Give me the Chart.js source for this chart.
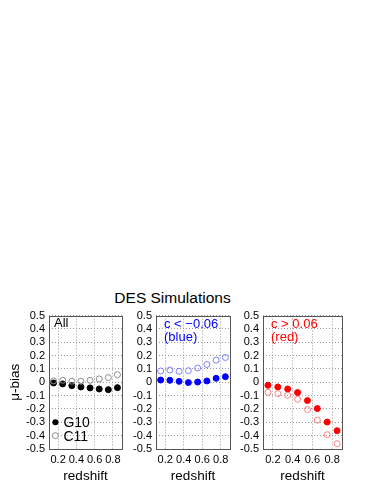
<!DOCTYPE html>
<html lang="en">
<head>
<meta charset="UTF-8">
<title>DES Simulations</title>
<style>
    body { margin: 0; background: #fff; font-family: "Liberation Sans", Arial, sans-serif; }
    #wrap { position: relative; width: 374px; height: 484px; }
    .panel { position: absolute; top: 305px; }
    #title { position: absolute; left: 100px; width: 145px; top: 289px; text-align: center; font-size: 15.5px; color: #000; }
</style>
</head>
<body>
<div id="wrap">
    <div id="title">DES Simulations</div>
    <canvas id="c1" class="panel" width="130" height="179" style="left:0px"></canvas>
    <canvas id="c2" class="panel" width="114" height="179" style="left:126px"></canvas>
    <canvas id="c3" class="panel" width="114" height="179" style="left:233px"></canvas>
</div>

<script src="https://cdn.jsdelivr.net/npm/chart.js"></script>
<script>
// redshift bins
const redshift = [0.15, 0.25, 0.35, 0.45, 0.55, 0.65, 0.75, 0.85];
const xTicks = [0.2, 0.4, 0.6, 0.8];
const yTicks = [-0.5, -0.4, -0.3, -0.2, -0.1, 0, 0.1, 0.2, 0.3, 0.4, 0.5];

// All
const allG10 = [-0.005, -0.012, -0.025, -0.035, -0.042, -0.05, -0.055, -0.04];
const allC11 = [0.01, 0.015, 0.008, 0.008, 0.015, 0.025, 0.035, 0.057];
// c < -0.06 (blue)
const blueG10 = [0.017, 0.015, 0.007, -0.002, 0.002, 0.01, 0.03, 0.042];
const blueC11 = [0.085, 0.092, 0.082, 0.087, 0.107, 0.134, 0.166, 0.186];
// c > 0.06 (red)
const redG10 = [-0.022, -0.035, -0.05, -0.077, -0.137, -0.197, -0.298, -0.363];
const redC11 = [-0.075, -0.085, -0.097, -0.127, -0.204, -0.284, -0.393, -0.46];

const FONT = '"Liberation Sans", Arial, sans-serif';

// box around plot + labels inside the panel
const panelPlugin = {
    id: 'panelText',
    afterDraw(chart, args, opts) {
        const ctx = chart.ctx;
        const a = chart.chartArea;
        ctx.save();
        ctx.strokeStyle = '#555';
        ctx.lineWidth = 1;
        ctx.strokeRect(Math.round(a.left) + 0.5, Math.round(a.top) + 0.5, Math.round(a.right - a.left), Math.round(a.bottom - a.top));
        ctx.textBaseline = 'middle';
        (opts.lines || []).forEach(l => {
            ctx.font = l.size + 'px ' + FONT;
            ctx.fillStyle = l.color;
            ctx.fillText(l.text, a.left + l.dx, a.top + l.dy);
        });
        // legend (G10 / C11) at fixed data positions
        if (opts.legend) {
            const xs = chart.scales.x, ys = chart.scales.y;
            opts.legend.forEach(k => {
                const px = xs.getPixelForValue(k.x), py = ys.getPixelForValue(k.y);
                ctx.beginPath();
                ctx.arc(px, py, 3, 0, Math.PI * 2);
                if (k.filled) { ctx.fillStyle = k.color; ctx.fill(); }
                else { ctx.fillStyle = '#fff'; ctx.fill(); ctx.strokeStyle = k.color; ctx.stroke(); }
                ctx.font = '14px ' + FONT;
                ctx.fillStyle = '#000';
                ctx.fillText(k.text, px + 8, py + 1);
            });
        }
        ctx.restore();
    }
};

function makePanel(id, g10, c11, fillColor, openColor, yWidth, padRight, showYTitle, lines, legend) {
    new Chart(document.getElementById(id), {
        type: 'scatter',
        data: {
            datasets: [
                {
                    label: 'C11',
                    data: redshift.map((z, i) => ({ x: z, y: c11[i] })),
                    pointStyle: 'circle',
                    pointRadius: 3,
                    pointBackgroundColor: 'rgba(255,255,255,0)',
                    pointBorderColor: openColor,
                    pointBorderWidth: 1
                },
                {
                    label: 'G10',
                    data: redshift.map((z, i) => ({ x: z, y: g10[i] })),
                    pointStyle: 'circle',
                    pointRadius: 3,
                    pointBackgroundColor: fillColor,
                    pointBorderColor: fillColor,
                    pointBorderWidth: 1
                }
            ]
        },
        options: {
            responsive: false,
            animation: false,
            events: [],
            layout: { padding: { top: 10, right: padRight, left: 0, bottom: 0 } },
            plugins: {
                legend: { display: false },
                tooltip: { enabled: false },
                panelText: { lines: lines, legend: legend }
            },
            scales: {
                x: {
                    type: 'linear',
                    min: 0.1,
                    max: 0.9,
                    afterBuildTicks: s => { s.ticks = xTicks.map(v => ({ value: v })); },
                    afterFit: s => { s.height = 35; },
                    grid: { color: '#9a9a9a', drawTicks: false },
                    border: { display: false, dash: [1, 2] },
                    ticks: { autoSkip: false, maxRotation: 0, padding: 4, color: '#000', font: { family: FONT, size: 11 }, callback: v => v.toFixed(1) },
                    title: { display: true, text: 'redshift', color: '#000', padding: { top: 1, bottom: 0 }, font: { family: FONT, size: 13.5 } }
                },
                y: {
                    min: -0.5,
                    max: 0.5,
                    afterBuildTicks: s => { s.ticks = yTicks.map(v => ({ value: v })); },
                    afterFit: s => { s.width = yWidth; },
                    grid: { color: '#9a9a9a', drawTicks: false },
                    border: { display: false, dash: [1, 2] },
                    ticks: { autoSkip: false, padding: 4, color: '#000', font: { family: FONT, size: 11 }, callback: v => (Math.abs(v) < 1e-9 ? '0' : v.toFixed(1)) },
                    title: { display: showYTitle, text: 'μ-bias', color: '#000', padding: { top: 7, bottom: 0 }, font: { family: FONT, size: 13.5 } }
                }
            }
        },
        plugins: [panelPlugin]
    });
}

makePanel('c1', allG10, allC11, '#000000', '#8c8c8c', 49, 8, true,
    [{ text: 'All', color: '#000', size: 13, dx: 5, dy: 8 }],
    [{ x: 0.17, y: -0.3, filled: true, color: '#000', text: 'G10' },
     { x: 0.17, y: -0.4, filled: false, color: '#8c8c8c', text: 'C11' }]);

makePanel('c2', blueG10, blueC11, '#0000ff', '#7f7fff', 30, 10, false,
    [{ text: 'c < −0.06', color: '#0000ff', size: 13, dx: 8, dy: 9 },
     { text: '(blue)', color: '#0000ff', size: 13, dx: 8, dy: 22 }], null);

makePanel('c3', redG10, redC11, '#ff0000', '#ff8080', 30, 4, false,
    [{ text: 'c > 0.06', color: '#ff0000', size: 13, dx: 8, dy: 9 },
     { text: '(red)', color: '#ff0000', size: 13, dx: 8, dy: 22 }], null);
</script>
</body>
</html>
